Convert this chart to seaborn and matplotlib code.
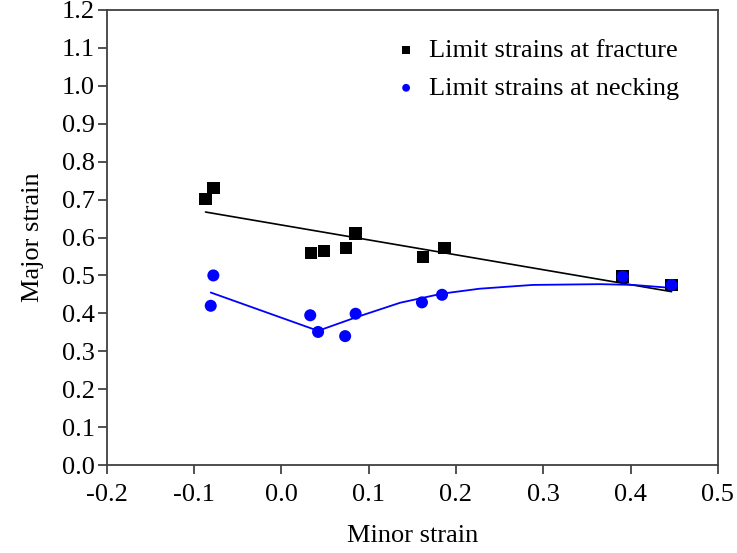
import numpy as np
import pandas as pd
import matplotlib
matplotlib.use("Agg")
import matplotlib.pyplot as plt
import seaborn as sns

# Limit strains at fracture
frac_minor = [-0.087, -0.078, 0.034, 0.049, 0.074, 0.085, 0.162, 0.187, 0.391, 0.447]
frac_major = [0.702, 0.730, 0.559, 0.565, 0.573, 0.611, 0.548, 0.573, 0.497, 0.475]

# Limit strains at necking
neck_minor = [-0.078, -0.081, 0.033, 0.042, 0.073, 0.085, 0.161, 0.184, 0.391, 0.447]
neck_major = [0.500, 0.420, 0.395, 0.351, 0.340, 0.399, 0.429, 0.449, 0.497, 0.475]

# necking fit curve
neck_fit_minor = [-0.081, 0.042, 0.086, 0.136, 0.184, 0.227, 0.288, 0.365, 0.403, 0.442]
neck_fit_major = [0.455, 0.354, 0.390, 0.428, 0.452, 0.465, 0.475, 0.477, 0.475, 0.468]

xticks = [-0.2, -0.1, 0.0, 0.1, 0.2, 0.3, 0.4, 0.5]
yticks = [0.0, 0.1, 0.2, 0.3, 0.4, 0.5, 0.6, 0.7, 0.8, 0.9, 1.0, 1.1, 1.2]

sns.set_theme(style="white")
plt.rcParams['font.family'] = ['Liberation Serif', 'DejaVu Serif']

fig = plt.figure(figsize=(7.37, 5.53), dpi=100)
ax = fig.add_axes([0.145, 0.159, 0.829, 0.823])

df_frac = pd.DataFrame({"x": frac_minor, "y": frac_major})
df_neck = pd.DataFrame({"x": neck_minor, "y": neck_major})
df_fit = pd.DataFrame({"x": neck_fit_minor, "y": neck_fit_major})

sns.regplot(data=df_frac, x="x", y="y", ci=None, scatter=False, truncate=True,
            line_kws=dict(color="black", lw=1.2), ax=ax)
sns.lineplot(data=df_fit, x="x", y="y", color="blue", lw=1.3, sort=False,
             estimator=None, ax=ax)
sns.scatterplot(data=df_frac, x="x", y="y", marker="s", s=80, color="black",
                edgecolor="none", ax=ax, label="Limit strains at fracture", zorder=3)
sns.scatterplot(data=df_neck, x="x", y="y", marker="o", s=75, color="blue",
                edgecolor="none", ax=ax, label="Limit strains at necking", zorder=4)

ax.set_xlim(-0.2, 0.5)
ax.set_ylim(0.0, 1.2)
ax.set_xticks(xticks)
ax.set_yticks(yticks)
ax.set_xticklabels([f"{v:.1f}" for v in xticks])
ax.set_yticklabels([f"{v:.1f}" for v in yticks])
ax.tick_params(axis="both", which="major", direction="out", length=6.5, width=1.2,
               color="#333333", labelsize=19, labelcolor="black",
               bottom=True, left=True, top=False, right=False, pad=2)
ax.tick_params(axis="x", pad=7)
for s in ax.spines.values():
    s.set_color("#404040")
    s.set_linewidth(1.3)
ax.set_xlabel("Minor strain", fontsize=19, labelpad=14, color="black")
ax.set_ylabel("Major strain", fontsize=19, labelpad=13, color="black")

leg = ax.legend(loc="upper left", frameon=False, fontsize=19, markerscale=0.65,
                handletextpad=0.25, labelspacing=0.55, handlelength=1.2,
                bbox_to_anchor=(0.425, 0.99))
for t in leg.get_texts():
    t.set_color("black")

fig.savefig("out.png", dpi=100)
